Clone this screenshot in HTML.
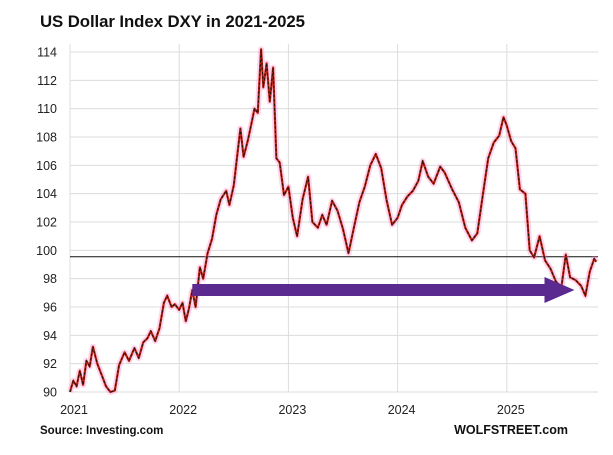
<!DOCTYPE html>
<html><head><meta charset="utf-8"><style>
body{margin:0;background:#fff;font-family:"Liberation Sans",sans-serif;}
svg text{font-family:"Liberation Sans",sans-serif;}
</style></head><body>
<svg width="613" height="450" viewBox="0 0 613 450" id="chart">
<rect width="613" height="450" fill="#fff"/>
<text x="40" y="27" font-size="16.8" font-weight="bold" fill="#111" textLength="265">US Dollar Index DXY in 2021-2025</text>
<g id="grid"></g>
<g id="yaxis"></g>
<g id="xaxis"></g>
<g id="series"></g>
<text x="40" y="434" font-size="11.5" font-weight="bold" fill="#111">Source: Investing.com</text>
<text x="568" y="434" font-size="12.5" font-weight="bold" fill="#111" text-anchor="end">WOLFSTREET.com</text>
</svg>
<script>
const yTicks=[90,92,94,96,98,100,102,104,106,108,110,112,114];
const xTicks=[2021,2022,2023,2024,2025];
const refValue=99.55;
const arrowFrom=2022.12, arrowTo=2025.62, arrowValue=97.2;
const dates=[2021.00,2021.03,2021.06,2021.09,2021.12,2021.15,2021.18,2021.21,2021.25,2021.29,2021.33,2021.37,2021.41,2021.45,2021.50,2021.54,2021.59,2021.63,2021.67,2021.71,2021.74,2021.78,2021.82,2021.86,2021.89,2021.93,2021.96,2022.00,2022.03,2022.06,2022.09,2022.12,2022.15,2022.19,2022.22,2022.26,2022.30,2022.34,2022.38,2022.43,2022.46,2022.50,2022.53,2022.56,2022.59,2022.63,2022.66,2022.69,2022.72,2022.75,2022.77,2022.80,2022.83,2022.86,2022.89,2022.92,2022.96,2023.00,2023.04,2023.08,2023.13,2023.18,2023.22,2023.27,2023.31,2023.35,2023.40,2023.45,2023.50,2023.55,2023.60,2023.65,2023.70,2023.75,2023.80,2023.85,2023.90,2023.95,2024.00,2024.04,2024.09,2024.14,2024.19,2024.23,2024.28,2024.33,2024.39,2024.43,2024.50,2024.56,2024.62,2024.68,2024.73,2024.78,2024.83,2024.88,2024.93,2024.97,2025.00,2025.04,2025.08,2025.12,2025.17,2025.21,2025.25,2025.30,2025.35,2025.40,2025.45,2025.50,2025.54,2025.58,2025.63,2025.68,2025.72,2025.76,2025.80,2025.82];
const values=[90.0,90.8,90.4,91.5,90.5,92.2,91.8,93.2,92.0,91.2,90.4,90.0,90.1,91.9,92.8,92.2,93.1,92.4,93.5,93.8,94.3,93.6,94.5,96.3,96.8,96.0,96.2,95.8,96.3,95.0,95.9,97.2,96.0,98.8,98.0,99.8,100.8,102.5,103.6,104.2,103.2,104.6,106.6,108.6,106.6,107.8,108.9,110.0,109.7,114.2,111.5,113.2,110.5,112.9,106.5,106.2,103.9,104.5,102.3,101.0,103.6,105.2,102.0,101.6,102.5,101.8,103.5,102.8,101.5,99.8,101.6,103.4,104.5,106.0,106.8,105.8,103.5,101.8,102.3,103.2,103.8,104.2,104.9,106.3,105.2,104.7,105.9,105.5,104.3,103.4,101.6,100.7,101.2,103.9,106.5,107.6,108.1,109.4,108.8,107.7,107.2,104.3,104.0,100.0,99.5,101.0,99.3,98.7,97.8,97.4,99.7,98.1,97.9,97.5,96.8,98.5,99.4,99.2];
const NS="http://www.w3.org/2000/svg";
const L=70,R=598,T=52,B=392;
function xs(d){return L+(d-2021)*109.2;}
function ys(v){return B-(v-90)*(B-T)/24;}
function mk(tag,attrs,parent){const e=document.createElementNS(NS,tag);for(const k in attrs)e.setAttribute(k,attrs[k]);parent.appendChild(e);return e;}
const grid=document.getElementById('grid'),ya=document.getElementById('yaxis'),xa=document.getElementById('xaxis'),se=document.getElementById('series');
yTicks.forEach(v=>{
 const l=mk('line',{x1:L,x2:R,y1:ys(v),y2:ys(v),stroke:'#dcdcdc','stroke-width':1},grid);
 
 
 const t=mk('text',{x:57,y:ys(v)+4.5,'font-size':12.5,'text-anchor':'end',fill:'#222'},ya);
 t.textContent=v;
 
 
});
xTicks.forEach(d=>{
 const l=mk('line',{x1:xs(d),x2:xs(d),y1:44,y2:B,stroke:'#dcdcdc','stroke-width':1},grid);
 
 
 const t=mk('text',{x:xs(d)+4,y:414,'font-size':12.5,'text-anchor':'middle',fill:'#222'},xa);
 t.textContent=d;
 
 
});
const ref=mk('line',{x1:L,x2:R,y1:ys(refValue),y2:ys(refValue),stroke:'#111','stroke-width':1},se);


const pts=dates.map((d,i)=>xs(d).toFixed(1)+','+ys(values[i]).toFixed(1)).join(' ');
const halo=mk('polyline',{points:pts,fill:'none',stroke:'rgba(255,120,200,0.3)','stroke-width':6,'stroke-linejoin':'round'},se);


const red=mk('polyline',{points:pts,fill:'none',stroke:'#c8261a','stroke-width':2.2,'stroke-linejoin':'round'},se);


const dark=mk('polyline',{points:pts,fill:'none',stroke:'#2a1208','stroke-width':1.1,'stroke-dasharray':'3 1.5'},se);


const ay=ys(arrowValue),ax1=xs(arrowFrom),ax2=xs(arrowTo);
const shaft=mk('rect',{x:ax1,y:ay-6,width:ax2-ax1-28,height:12,fill:'#5b2a91'},se);


const head=mk('polygon',{points:`${ax2-30},${ay-13} ${ax2},${ay} ${ax2-30},${ay+13}`,fill:'#5b2a91'},se);


</script>
</body></html>
